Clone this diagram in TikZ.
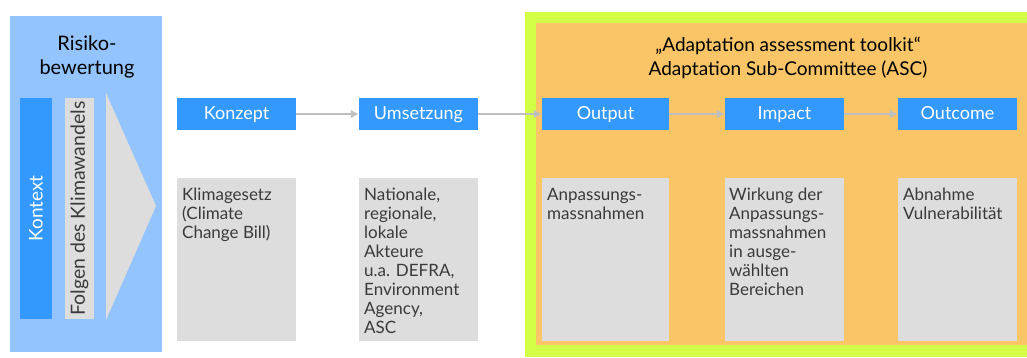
\documentclass[tikz,border=0pt]{standalone}
\usepackage{fontspec}
\setmainfont{Lato}
\usetikzlibrary{arrows.meta}
\definecolor{panelblue}{HTML}{94C4FD}
\definecolor{boxblue}{HTML}{3399FF}
\definecolor{boxgrey}{HTML}{DDDDDD}
\definecolor{frameorange}{HTML}{F9C567}
\definecolor{framegreen}{HTML}{D4FF47}
\definecolor{arrowgrey}{HTML}{BFBFBF}
\definecolor{textgrey}{HTML}{3A3A3A}
\begin{document}
\begin{tikzpicture}[x=1pt,y=-1pt,
  bluebox/.style={fill=boxblue, text=white, minimum height=32pt, inner sep=0pt, text height=16pt, text depth=4pt, font=\fontsize{18}{20}\selectfont},
  greybox/.style={fill=boxgrey, minimum height=163pt, inner sep=0pt, anchor=north west},
  greytext/.style={anchor=north west, align=left, inner sep=0pt, text=textgrey, font=\fontsize{17}{19}\selectfont},
  flow/.style={draw=arrowgrey, line width=2.5pt, -{Latex[length=8pt,width=9pt]}},
  titletext/.style={align=center, text=black, font=\fontsize{19}{23.5}\selectfont},
  bar/.style={rotate=90, minimum width=221pt, inner sep=0pt}
]
\useasboundingbox (0,0) rectangle (1027,358);
% left panel
\fill[panelblue] (10,16) rectangle (162,352);
\node[titletext, font=\fontsize{20}{24}\selectfont] (risk) at (87,57) {Risiko-\\bewertung};
\node[bar, fill=boxblue, minimum height=32pt, text=white, font=\fontsize{19}{20}\selectfont] (kontext) at (36,208.5) {Kontext};
\node[bar, fill=boxgrey, minimum height=29pt, text=textgrey, font=\fontsize{19.5}{20}\selectfont] (folgen) at (79.5,208.5) {Folgen des Klimawandels};
\fill[boxgrey] (106,93) -- (156,206) -- (106,320) -- cycle;
% right frame
\fill[framegreen] (525,12) rectangle (1027,357);
\fill[frameorange] (536,23) rectangle (1027,345);
\node[titletext] (asc) at (788,58) {„Adaptation assessment toolkit“\\Adaptation Sub-Committee (ASC)};
% blue boxes
\node[bluebox, minimum width=119pt] (konzept) at (236.5,114) {Konzept};
\node[bluebox, minimum width=119pt] (umsetzung) at (418.5,114) {Umsetzung};
\node[bluebox, minimum width=127pt] (output) at (605.5,114) {Output};
\node[bluebox, minimum width=119pt] (impact) at (784.5,114) {Impact};
\node[bluebox, minimum width=119pt] (outcome) at (957.5,114) {Outcome};
\draw[flow] (konzept) -- (umsetzung);
\draw[flow] (umsetzung) -- (output);
\draw[flow] (output) -- (impact);
\draw[flow] (impact) -- (outcome);
% grey boxes
\node[greybox, minimum width=119pt] (g1) at (177,178) {};
\node[greybox, minimum width=119pt] (g2) at (359,178) {};
\node[greybox, minimum width=127pt] (g3) at (542,178) {};
\node[greybox, minimum width=119pt] (g4) at (725,178) {};
\node[greybox, minimum width=119pt] (g5) at (898,178) {};
\node[greytext] (t1) at ([xshift=5pt,yshift=-10pt]g1.north west) {Klimagesetz\\(Climate\\Change Bill)};
\node[greytext] (t2) at ([xshift=5pt,yshift=-10pt]g2.north west) {Nationale,\\regionale,\\lokale\\Akteure\\u.a. DEFRA,\\Environment\\Agency,\\ASC};
\node[greytext] (t3) at ([xshift=5pt,yshift=-10pt]g3.north west) {Anpassungs-\\massnahmen};
\node[greytext] (t4) at ([xshift=4pt,yshift=-10pt]g4.north west) {Wirkung der\\Anpassungs-\\massnahmen\\in ausge-\\wählten\\Bereichen};
\node[greytext] (t5) at ([xshift=5pt,yshift=-10pt]g5.north west) {Abnahme\\Vulnerabilität};
\end{tikzpicture}
\end{document}
